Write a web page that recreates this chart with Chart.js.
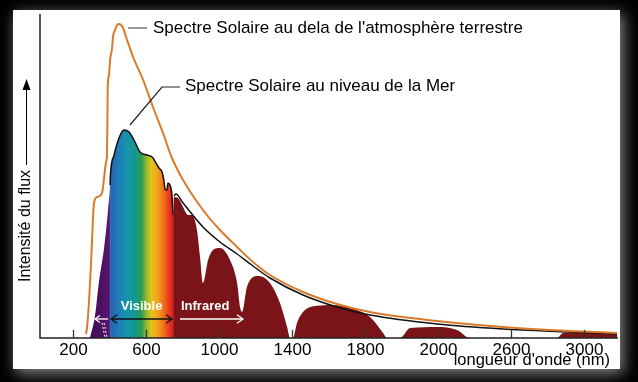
<!DOCTYPE html>
<html>
<head>
<meta charset="utf-8">
<script src="https://cdn.jsdelivr.net/npm/chart.js@4/dist/chart.umd.min.js"></script>
<style>
  html,body{margin:0;padding:0;background:#000;}
  #wrap{width:638px;height:382px;}
</style>
</head>
<body>
<div id="wrap"><canvas id="c" width="638" height="382"></canvas></div>
<script>
// ---------- DATA ----------
// x axis tick values (nm) and the labels printed under them (as in the original figure)
const wavelengthTicks = [200, 600, 1000, 1400, 1800, 2200, 2600, 3000];
const tickLabels = ['200', '600', '1000', '1400', '1800', '2000', '2600', '3000'];

// Spectre solaire hors atmosphère (orange curve)
const extraNm   = [271, 277, 288, 299, 315, 332, 359, 370, 381, 386, 389, 390, 397, 403, 414, 419, 430, 441, 452, 463, 474, 496, 529, 584, 638, 693, 742, 803, 912, 1005, 1099, 1186, 1279, 1460, 1646, 1827, 2194, 2556, 2923, 3181];
const extraFlux = [4,   11,  38,  76,  135, 141, 145, 160, 176, 183, 228, 250, 263, 278, 290, 301, 308, 313, 314, 313, 310, 298, 281, 258, 231, 205, 180, 158, 128, 108,  91,   76,   63,   46,   34,   26,   17,   11,   7,    5];

// Enveloppe lisse du spectre au niveau de la mer (black line, infrared part)
const envNm   = [753, 764, 803, 912, 1005, 1099, 1186, 1279, 1460, 1646, 1827, 2194, 2556, 2923, 3181];
const envFlux = [142, 144, 135, 111, 96,   84,   72,   60,   43,   31,   23,   14,   9,    6,    4];

// Spectre solaire au niveau de la mer (filled, with absorption bands)
const seaNm   = [293, 321, 342, 370, 392, 403, 405, 425, 452, 479, 507, 534, 567, 605, 633, 671, 688, 699, 704, 715, 720, 731, 742, 748, 753, 775, 803, 819, 830, 852, 879, 896, 912, 940, 967, 1005, 1060, 1099, 1115, 1126, 1153, 1214, 1279, 1334, 1373, 1389, 1405, 1427, 1460, 1526, 1625, 1718, 1827, 1899, 1920, 1992, 2047, 2194, 2304, 2375, 2852, 2885, 3016, 3181];
const seaFlux = [0,   23,  56,  90,  128, 153, 163, 183, 200, 208, 206, 198, 186, 183, 181, 170, 166, 156, 149, 148, 155, 153, 143, 123, 141, 140, 131, 125, 123, 123, 108, 81,  55,  78,  88,  90,   78,   55,   31,   26,   51,   62,   55,   35,   11,   0,    0,    15,   26,   32,   33,   30,   21,   5,    0,    0,    10,   11,   8,    0,    0,    5,    6,    5];

// Annotation ranges (nm)
const visibleRange  = [403, 748];
const infraredArrow = [786, 1131];
const uvArrow       = [392, 320];

// ---------- STYLE ----------
const spectrumStops = [
  [277, '#3a0b47'], [398, '#581470'], [404, '#2a5fae'], [452, '#1f7fb8'],
  [500, '#1496aa'], [545, '#13978a'], [575, '#2f9c4c'], [602, '#8fba34'],
  [628, '#e2c41c'], [662, '#f2a41e'], [700, '#f06a1c'], [730, '#e8321c'],
  [748, '#d81c1c'], [752, '#7a1419'], [3186, '#7a1419']
];
const FONT = "'Liberation Sans', Arial, Helvetica, sans-serif";
const ORANGE = '#d97b2b';

const toXY = (xs, ys) => xs.map((x, i) => ({x, y: ys[i]}));

function spectrumGradient(ctx) {
  const chart = ctx.chart;
  const area = chart.chartArea;
  if (!area) return '#7a1419';
  const xs = chart.scales.x;
  const g = chart.ctx.createLinearGradient(area.left, 0, area.right, 0);
  spectrumStops.forEach(([nm, col]) => {
    let o = (xs.getPixelForValue(nm) - area.left) / (area.right - area.left);
    o = Math.max(0, Math.min(1, o));
    g.addColorStop(o, col);
  });
  return g;
}

function arrowHead(ctx, x, y, dir, size) {
  ctx.beginPath();
  ctx.moveTo(x - dir * size, y - size * 0.7);
  ctx.lineTo(x, y);
  ctx.lineTo(x - dir * size, y + size * 0.7);
  ctx.stroke();
}

const decor = {
  id: 'decor',
  beforeDraw(chart) {
    const ctx = chart.ctx;
    ctx.save();
    ctx.fillStyle = '#000';
    ctx.fillRect(0, 0, chart.width, chart.height);
    ctx.shadowColor = 'rgba(150,150,150,0.95)';
    ctx.shadowBlur = 14;
    ctx.shadowOffsetX = 3;
    ctx.shadowOffsetY = 4;
    ctx.fillStyle = '#fff';
    ctx.fillRect(13, 10, 607, 359);
    ctx.restore();
  },
  afterDatasetsDraw(chart) {
    const ctx = chart.ctx;
    const a = chart.chartArea;
    const xs = chart.scales.x, ys = chart.scales.y;
    ctx.save();

    // axes
    ctx.strokeStyle = '#222';
    ctx.lineWidth = 1.5;
    ctx.beginPath();
    ctx.moveTo(a.left, a.top);
    ctx.lineTo(a.left, a.bottom);
    ctx.lineTo(a.right, a.bottom);
    ctx.stroke();

    // ticks (inward) and labels
    ctx.font = '17px ' + FONT;
    ctx.fillStyle = '#000';
    ctx.textAlign = 'center';
    ctx.textBaseline = 'alphabetic';
    wavelengthTicks.forEach((v, i) => {
      const px = Math.round(xs.getPixelForValue(v)) + 0.5;
      ctx.strokeStyle = '#333';
      ctx.lineWidth = 1.3;
      ctx.beginPath();
      ctx.moveTo(px, a.bottom);
      ctx.lineTo(px, a.bottom - 8);
      ctx.stroke();
      ctx.fillText(tickLabels[i], px, a.bottom + 17);
    });

    // x axis title
    ctx.font = '16.5px ' + FONT;
    ctx.textAlign = 'right';
    ctx.fillText("longueur d'onde (nm)", a.right - 8, a.bottom + 27);

    // y axis title with arrow
    const tx = a.left - 14;
    ctx.save();
    ctx.translate(tx, a.bottom - 112);
    ctx.rotate(-Math.PI / 2);
    ctx.font = '16px ' + FONT;
    ctx.textAlign = 'center';
    ctx.textBaseline = 'middle';
    ctx.fillText('Intensité du flux', 0, 0);
    ctx.restore();
    ctx.strokeStyle = '#000';
    ctx.lineWidth = 1;
    ctx.beginPath();
    ctx.moveTo(tx + 0.5, a.bottom - 173);
    ctx.lineTo(tx + 0.5, a.bottom - 252);
    ctx.stroke();
    ctx.fillStyle = '#000';
    ctx.beginPath();
    ctx.moveTo(tx + 0.5, a.bottom - 259);
    ctx.lineTo(tx - 3.5, a.bottom - 248);
    ctx.lineTo(tx + 4.5, a.bottom - 248);
    ctx.closePath();
    ctx.fill();

    // label 1: extraterrestrial spectrum, anchored at its peak
    let pi = extraFlux.indexOf(Math.max(...extraFlux));
    let px = xs.getPixelForValue(extraNm[pi]), py = ys.getPixelForValue(extraFlux[pi]);
    ctx.strokeStyle = '#555';
    ctx.lineWidth = 1.2;
    ctx.beginPath();
    ctx.moveTo(px + 9, py + 4);
    ctx.lineTo(px + 28, py + 4);
    ctx.stroke();
    ctx.font = '17px ' + FONT;
    ctx.fillStyle = '#000';
    ctx.textAlign = 'left';
    ctx.textBaseline = 'middle';
    ctx.fillText("Spectre Solaire au dela de l'atmosphère terrestre", px + 34, py + 4);

    // label 2: sea level spectrum, anchored at its peak
    pi = seaFlux.indexOf(Math.max(...seaFlux));
    px = xs.getPixelForValue(seaNm[pi]); py = ys.getPixelForValue(seaFlux[pi]);
    ctx.strokeStyle = '#222';
    ctx.beginPath();
    ctx.moveTo(px + 6, py - 5);
    ctx.lineTo(px + 38, py - 43);
    ctx.lineTo(px + 56, py - 43);
    ctx.stroke();
    ctx.fillText('Spectre Solaire au niveau de la Mer', px + 61, py - 44);

    // visible / infrared arrows
    const ay = ys.getPixelForValue(19);
    const vx0 = xs.getPixelForValue(visibleRange[0]), vx1 = xs.getPixelForValue(visibleRange[1]);
    ctx.strokeStyle = '#111';
    ctx.lineWidth = 1.3;
    ctx.beginPath(); ctx.moveTo(vx0 + 1, ay); ctx.lineTo(vx1 - 1, ay); ctx.stroke();
    arrowHead(ctx, vx1 - 1, ay, 1, 6);
    arrowHead(ctx, vx0 + 1, ay, -1, 6);

    const ix0 = xs.getPixelForValue(infraredArrow[0]), ix1 = xs.getPixelForValue(infraredArrow[1]);
    ctx.strokeStyle = '#fff';
    ctx.beginPath(); ctx.moveTo(ix0, ay); ctx.lineTo(ix1, ay); ctx.stroke();
    arrowHead(ctx, ix1, ay, 1, 6);

    const ux0 = xs.getPixelForValue(uvArrow[0]), ux1 = xs.getPixelForValue(uvArrow[1]);
    ctx.beginPath(); ctx.moveTo(ux0, ay); ctx.lineTo(ux1, ay); ctx.stroke();
    arrowHead(ctx, ux1, ay, -1, 5);
    // small break mark
    ctx.setLineDash([2, 2]);
    ctx.lineWidth = 1;
    ctx.beginPath();
    ctx.moveTo(ux0 - 6, ay + 4); ctx.lineTo(ux0 - 3, a.bottom);
    ctx.moveTo(ux0 - 4, ay + 4); ctx.lineTo(ux0 - 1, a.bottom);
    ctx.stroke();
    ctx.setLineDash([]);

    ctx.font = 'bold 13px ' + FONT;
    ctx.fillStyle = '#fff';
    ctx.textAlign = 'center';
    ctx.textBaseline = 'middle';
    ctx.fillText('Visible', (vx0 + vx1) / 2, ay - 13);
    ctx.textAlign = 'left';
    ctx.fillText('Infrared', ix0 + 1, ay - 13);

    ctx.restore();
  }
};

new Chart(document.getElementById('c'), {
  type: 'line',
  data: {
    datasets: [
      {
        label: 'Spectre Solaire au niveau de la Mer',
        data: toXY(seaNm, seaFlux),
        fill: 'origin',
        backgroundColor: spectrumGradient,
        borderWidth: 1.5,
        borderColor: '#000',
        segment: {
          borderColor: c => (c.p0.parsed.x >= visibleRange[0] && c.p1.parsed.x <= visibleRange[1]) ? '#111' : 'rgba(0,0,0,0)'
        },
        pointRadius: 0,
        cubicInterpolationMode: 'monotone',
        order: 3
      },
      {
        label: 'Enveloppe',
        data: toXY(envNm, envFlux),
        fill: false,
        borderColor: '#111',
        borderWidth: 1.5,
        pointRadius: 0,
        cubicInterpolationMode: 'monotone',
        order: 2
      },
      {
        label: "Spectre Solaire au dela de l'atmosphère terrestre",
        data: toXY(extraNm, extraFlux),
        fill: false,
        borderColor: ORANGE,
        borderWidth: 2,
        pointRadius: 0,
        cubicInterpolationMode: 'monotone',
        order: 1
      }
    ]
  },
  options: {
    responsive: false,
    animation: false,
    events: [],
    layout: { padding: { left: 40, top: 14, right: 20, bottom: 44 } },
    plugins: { legend: { display: false }, title: { display: false }, tooltip: { enabled: false } },
    scales: {
      x: { type: 'linear', min: 19, max: 3186, display: false },
      y: { type: 'linear', min: 0, max: 324, display: false }
    }
  },
  plugins: [decor]
});
</script>
</body>
</html>
